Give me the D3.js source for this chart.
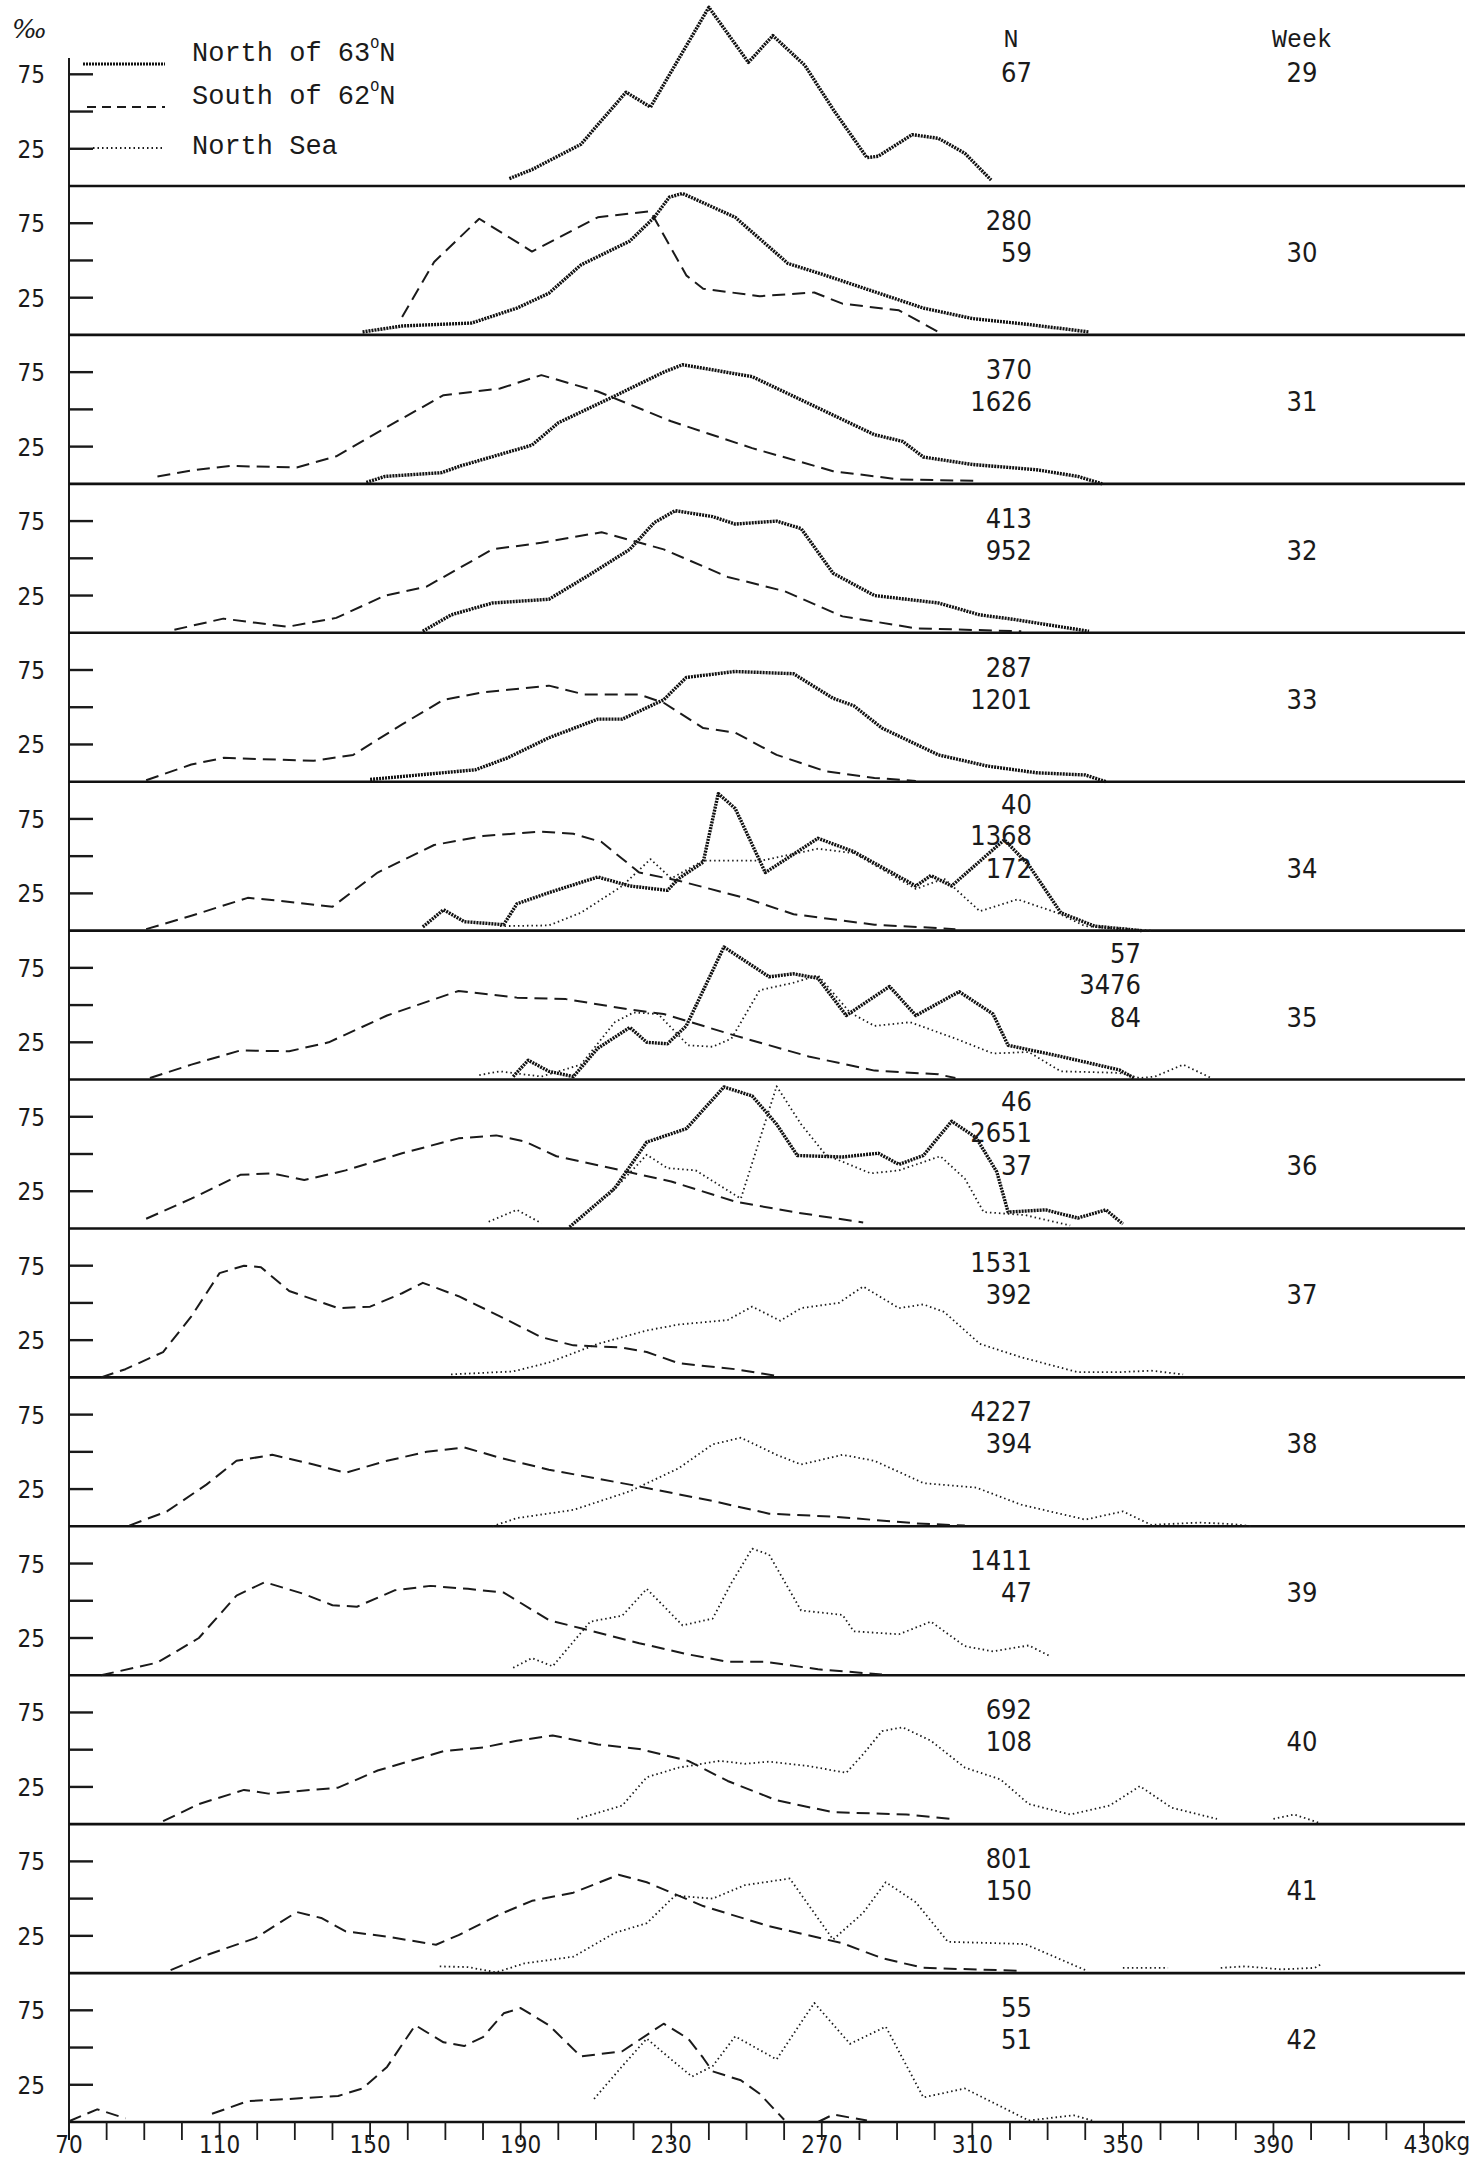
<!DOCTYPE html>
<html>
<head>
<meta charset="utf-8">
<script src="https://cdn.jsdelivr.net/npm/d3@7"></script>
<style>
  body { margin: 0; background: #fff; }
  svg { display: block; }
  .num { font-family: "DejaVu Sans", sans-serif; font-stretch: condensed; fill: #1a1a1a; }
  .mono { font-family: "Liberation Mono", "DejaVu Sans Mono", monospace; fill: #1a1a1a; }
</style>
</head>
<body>
<div id="chart_wrapper"></div>
<script>
// weeks shown, one panel each, top to bottom
var weeks = [29, 30, 31, 32, 33, 34, 35, 36, 37, 38, 39, 40, 41, 42];

// N column (sample sizes) for every panel
var nCounts = [["67"], ["280", "59"], ["370", "1626"], ["413", "952"], ["287", "1201"],
    ["40", "1368", "172"], ["57", "3476", "84"], ["46", "2651", "37"], ["1531", "392"],
    ["4227", "394"], ["1411", "47"], ["692", "108"], ["801", "150"], ["55", "51"]];

var xLabels = [70, 110, 150, 190, 230, 270, 310, 350, 390, 430];
var yLabels = [75, 25];
var yTicks = [75, 50, 25];
var seriesNames = ["North of 63", "South of 62", "North Sea"];

// [weight kg, per mille] per panel, null = gap in the line
var northOf63 = [
    [[187,5],[193,11],[206,28],[218,63],[224.5,53],[240,120],[250.5,83],[257,101],[265.5,81],[273,51.5],[282,19],[285,20],[294,34.5],[301,32],[308,22],[315,4]],
    [[148,2],[158.5,6],[177,8],[189,18],[197.5,28],[206,47],[219,63],[225.5,79],[229.5,92.5],[233,95],[247,79],[261,48],[271,40],[284,29],[297,18],[310,11],[325,7],[341,2]],
    [[149,1],[154,5],[169,7.5],[174,12],[193,26],[200,41],[215,59],[228,75],[233,80],[251.5,72],[269,51],[284,33],[291.5,28.5],[297,18],[310,13],[327,9.5],[338,5],[344.5,0]],
    [[164,1],[171.5,12],[182.5,20],[197.5,22.5],[208,38.5],[219,56],[225.5,74],[231,82],[241,78],[247,73],[258,75],[264.5,70],[273,40],[284,25],[301,20],[312,12],[321,9],[341,1]],
    [[150,1.5],[165,5],[178,8],[186.5,16],[197.5,29.5],[210.5,42],[217,42],[228,55],[234,70],[247,74],[262.5,72.5],[273,56],[278.5,51],[286,36],[301,18],[314,10.5],[327,6],[340,4.5],[345.5,0]],
    [[164,2.5],[169.5,14],[175,6],[185.5,4],[189,18],[197.5,25.5],[210.5,36],[219,30],[229,27],[232,35],[238.5,46],[242.5,92],[247,82],[255,39],[269,62],[278.5,53],[295,30],[299,37],[304.5,30],[318.5,61],[325,44],[333.5,12],[342.5,3],[355,0]],
    [[188,2],[192,13],[197.5,5.5],[204,2],[210.5,21],[219,35],[223.5,25],[229,24],[234,36],[244,89],[256,69],[262.5,71],[269,68],[276.5,43],[288,62.5],[295,43],[306.5,59],[315.5,44],[319.5,23],[333.5,15.5],[349,6.5],[353,1]],
    [[203,1],[215,27],[223.5,58],[234,67],[244,95],[251.5,89],[258,70],[263.5,49],[275.5,48],[285,50.5],[290.5,43],[297,49],[304.5,72],[311,61],[316.5,38],[319.5,11],[329.5,12.5],[338,7],[345.5,12.5],[350,3]],
    [], [], [], [], [], []
];

var southOf62 = [
    [],
    [[158.5,12],[167,49],[179,78],[193,56],[210.5,79],[224.5,83],[234,40],[238.5,31],[253.5,26],[268,28.5],[275.5,21],[290.5,16.5],[301,2]],
    [[93.5,5],[102.5,9],[113,12],[130.5,11],[141,18.5],[154,37.5],[169.5,59.5],[184.5,64],[195.5,73],[210.5,62],[230,42],[251.5,24],[273,8.5],[290.5,3],[311,2]],
    [[98,2],[111,9.5],[128,4],[141,10],[154,25],[165,31],[182.5,56],[195.5,60.5],[211.5,67.5],[228,56],[245,37.5],[260,28],[275.5,11],[295,3],[323,1]],
    [[90.5,1],[102.5,11.5],[111,16],[135,14],[145.5,18],[158.5,38.5],[169.5,55],[180,60],[197.5,64.5],[207,58.5],[221.5,58.5],[228,53],[238.5,36],[247,33],[258,18],[271,7],[284,2.5],[295,0.5]],
    [[90.5,1],[102.5,10],[117.5,22],[126,20],[140,16],[152,39],[167,57.5],[180,63.5],[195.5,66.5],[204,65],[211.5,59.5],[221.5,39],[232,33.5],[249.5,22],[262.5,11],[284,4],[305.5,1]],
    [[91.5,1],[102.5,10],[115.5,19.5],[128.5,19],[139,25],[154.5,43],[173.5,59.5],[189,55],[202,54],[219,47],[228,44],[247,29.5],[266.5,15.5],[284,6],[301,3.5],[305.5,1]],
    [[90.5,6.5],[102.5,20],[115.5,36],[124,37],[132.5,32.5],[143.5,39],[158.5,50.5],[173.5,60.5],[183.5,62.5],[191,58.5],[199.5,48.5],[210.5,42.5],[230,31.5],[247,18],[262.5,11],[281,4]],
    [[78.5,0],[85,5.5],[95,17],[102.5,41],[110,70],[116.5,75],[121,74],[128.5,58],[141.5,46.5],[150,47.5],[158.5,56.5],[164,63.5],[173.5,54.5],[184.5,41],[195.5,27],[204,21.5],[217,20],[223.5,17],[232,9.5],[247,5.5],[258,1]],
    [[86,0.5],[96,10],[106.5,28],[114.5,44],[124,48],[135,41.5],[143.5,36],[154.5,44],[165,50],[175,53],[184.5,46],[197.5,38],[219,28],[241,17],[256,8.5],[273,6.5],[295,2],[308,0.5]],
    [[78.5,0],[93.5,8.5],[104.5,25],[114.5,53.5],[122,62.5],[132.5,54.5],[140,47],[146.5,46],[156.5,57],[166,60],[176,58],[185.5,55.5],[197.5,37],[206,31.5],[221.5,21.5],[234.5,14],[245,9],[255,9],[269,4],[286,0.5]],
    [[95,2],[104.5,13.5],[116.5,23],[123,20.5],[141.5,24.5],[152,36],[169.5,49],[180,51.5],[189,56],[198.5,59.5],[210.5,53.5],[221.5,50.5],[234.5,42.5],[245,29],[258,16],[273,8],[292.5,6.5],[304.5,3.5]],
    [[97,2],[106.5,12],[119.5,23.5],[130.5,41],[137,37],[143.5,28],[154.5,24.5],[167.5,19],[173.5,25.5],[184.5,39.5],[193,48.5],[204,54],[216,66],[223.5,61],[238.5,45],[256,31.5],[275.5,20],[286,10],[297,3.5],[323,1.5]],
    [[70,0.5],[77.5,8.5],[85,2.5],null,[108,5.5],[117.5,14],[128.5,15.5],[141.5,17.5],[148,22.5],[154.5,37],[162,65],[169.5,53.5],[175,51],[180,57],[185.5,73],[190,76.5],[197.5,65],[206,44],[217,47.5],[228,66],[234.5,56],[238.5,43],[241,34],[248.5,28],[253.5,19],[260,1.5],null,[269,0],[273,5],[282,1]]
];

var northSea = [
    [], [], [], [], [],
    [[184.5,3],[197.5,3.5],[206,12],[217,30],[224.5,48],[230,35],[238.5,47],[254,47],[269,55],[278.5,52],[295,28],[302.5,35],[312,13],[322,21],[332.5,12],[340,3],[357.5,0]],
    [[179,3],[184.5,5.5],[195.5,2],[206,10],[215,38.5],[220,45],[226.5,44],[234.5,23],[241,22],[246,27.5],[253.5,60],[262.5,65],[269,70],[277.5,45],[284,36],[293.5,38.5],[305.5,27.5],[315.5,17.5],[325,18.5],[333.5,5.5],[349,4.5],[354.5,1],[358.5,2],[366,10],[373.5,1]],
    [[181.5,4.5],[189,12.5],[195.5,3.5],null,[213.5,22.5],[223.5,49.5],[229,40.5],[236.5,39],[248.5,20],[258,95.5],[264.5,70],[271,49.5],[283,37],[290.5,39],[301.5,48.5],[308,33.5],[313,11],[324,9],[336,2]],
    [[171.5,2],[188,4],[197.5,10],[210.5,22.5],[223.5,31.5],[232,35.5],[245,38.5],[251.5,47.5],[259,38],[264.5,46.5],[274.5,50],[281,61],[290.5,46.5],[297,49],[302.5,44],[312,22.5],[323,13.5],[338,3.5],[349,3.5],[357.5,4.5],[366,2]],
    [[182.5,0],[189,5.5],[204,11],[219,23.5],[232,39],[241,55],[248.5,59.5],[258,48],[264.5,41.5],[275.5,48],[284,44],[297,29],[311,26],[323,14.5],[340,4.5],[350,10],[357.5,1],[370.5,2.5],[379,1.5],[384.5,0]],
    [[188,5],[193,11.5],[198.5,6],[208.5,36],[217,40],[223.5,58],[233,33.5],[241,38],[246,62],[251.5,85],[256,81],[264.5,43.5],[275.5,40.5],[278.5,29.5],[290.5,27.5],[299,36],[308,19.5],[315.5,16],[325,20],[330.5,13]],
    [[205,3.5],[217,12.5],[223.5,31.5],[232,38],[243,42.5],[249.5,40.5],[256,42],[266.5,39],[276.5,34.5],[281,47],[286,62.5],[291.5,65],[299,56],[308,38],[317.5,30],[325,13.5],[336,6.5],[346.5,12.5],[354.5,25.5],[363,11],[375,3.5],null,[390,3.5],[395.5,6.5],[402,1]],
    [[168.5,4.5],[176,4],[183.5,0.5],[191,6.5],[204,11],[215,27],[223.5,33.5],[231,52],[241,50],[249.5,59],[261.5,63.5],[273,22.5],[281,40.5],[287,61],[295,47.5],[303.5,21],[324,19.5],[340,2],null,[350,3.5],[362,3.5],null,[376,3.5],[382.5,4.5],[392,2.5],[401,3.5],[403,6.5]],
    [[209.5,15.5],[217,37.5],[223.5,56],[230,42],[235.5,30.5],[241,37.5],[247,57.5],[258,42],[268,80],[277.5,52.5],[287,64],[297,16.5],[308,22.5],[325,1],[337,4.5],[342.5,0.5]]
];

var width = 1472, height = 2161;
var left = 69, lineEnd = 1465;
var firstBase = 186, lastBase = 2122;
var ph = (lastBase - firstBase) / (weeks.length - 1);

var svg = d3.select("#chart_wrapper").append("svg")
    .attr("width", width).attr("height", height);
svg.append("rect").attr("width", width).attr("height", height).attr("fill", "#fff");

var x = d3.scaleLinear().domain([70, 430]).range([left, 1424]);
var y = d3.scaleLinear().domain([0, 100]).range([0, -ph]);

var styles = [
    { width: 3.4, dash: "2,1", color: "#111" },        // North of 63
    { width: 2, dash: "13,7", color: "#1a1a1a" },      // South of 62
    { width: 1.8, dash: "1.5,3", color: "#1a1a1a" }    // North Sea
];

var line = d3.line()
    .defined(function(d) { return d != null; })
    .x(function(d) { return x(d[0]); })
    .y(function(d) { return y(d[1]); });

// vertical axis
svg.append("line").attr("x1", left).attr("x2", left).attr("y1", 58).attr("y2", lastBase + 18)
    .attr("stroke", "#1a1a1a").attr("stroke-width", 2);

svg.append("text").attr("x", 12).attr("y", 38).attr("font-size", 26).attr("font-style", "italic")
    .attr("font-family", "DejaVu Serif, serif").attr("fill", "#1a1a1a").text("‰");

var allSeries = [northOf63, southOf62, northSea];

weeks.forEach(function(w, i) {
    var base = firstBase + i * ph;
    var g = svg.append("g").attr("transform", "translate(0," + base + ")");

    g.append("line").attr("x1", left).attr("x2", lineEnd).attr("y1", 0).attr("y2", 0)
        .attr("stroke", "#111").attr("stroke-width", 2.6);

    g.selectAll(".ytick").data(yTicks).enter().append("line")
        .attr("x1", left).attr("x2", left + 24)
        .attr("y1", function(d) { return y(d); }).attr("y2", function(d) { return y(d); })
        .attr("stroke", "#1a1a1a").attr("stroke-width", 2.4);

    g.selectAll(".ylab").data(yLabels).enter().append("text")
        .attr("class", "num").attr("font-size", 24)
        .attr("x", 45).attr("y", function(d) { return y(d) + 9; })
        .attr("text-anchor", "end").text(function(d) { return d; });

    allSeries.forEach(function(series, s) {
        var pts = series[i];
        if (!pts.length) return;
        g.append("path").attr("d", line(pts))
            .attr("fill", "none")
            .attr("stroke", styles[s].color)
            .attr("stroke-width", styles[s].width)
            .attr("stroke-dasharray", styles[s].dash)
            .attr("stroke-linejoin", "round");
    });

    // N and week numbers
    var rows = nCounts[i];
    var offs = rows.length == 3 ? [-127, -96, -63] : rows.length == 2 ? [-115, -83] : [-114];
    var nx = w == 35 ? 1141 : 1032;
    rows.forEach(function(t, k) {
        g.append("text").attr("class", "num").attr("font-size", 27)
            .attr("x", nx).attr("y", offs[k] + 10).attr("text-anchor", "end").text(t);
    });
    g.append("text").attr("class", "num").attr("font-size", 27)
        .attr("x", 1302).attr("y", offs[offs.length - 1] + 10).attr("text-anchor", "middle").text(w);
});

// headers
svg.append("text").attr("class", "mono").attr("font-size", 25).attr("x", 1011).attr("y", 47)
    .attr("text-anchor", "middle").text("N");
svg.append("text").attr("class", "mono").attr("font-size", 25).attr("x", 1302).attr("y", 47)
    .attr("text-anchor", "middle").text("Week");

// legend
var legY = [64, 107, 148];
var legX = [[83, 165], [87, 165], [93, 163]];
var legText = [["North of 63", "N"], ["South of 62", "N"], ["North Sea", ""]];
legY.forEach(function(ly, k) {
    svg.append("line").attr("x1", legX[k][0]).attr("x2", legX[k][1]).attr("y1", ly).attr("y2", ly)
        .attr("stroke", styles[k].color).attr("stroke-width", k == 0 ? 3 : styles[k].width)
        .attr("stroke-dasharray", k == 1 ? "9,6" : styles[k].dash);
    var t = svg.append("text").attr("class", "mono").attr("font-size", 27)
        .attr("x", 192).attr("y", ly - (k == 2 ? -6 : 3));
    t.append("tspan").text(legText[k][0]);
    if (legText[k][1]) {
        t.append("tspan").attr("dy", -13).attr("font-size", 15).text("O");
        t.append("tspan").attr("dy", 13).text(legText[k][1]);
    }
});

// bottom axis
var minor = d3.range(70, 431, 10);
svg.selectAll(".xtick").data(minor).enter().append("line")
    .attr("x1", function(d) { return x(d); }).attr("x2", function(d) { return x(d); })
    .attr("y1", lastBase).attr("y2", lastBase + 18)
    .attr("stroke", "#1a1a1a").attr("stroke-width", 1.8);
svg.selectAll(".xlab").data(xLabels).enter().append("text")
    .attr("class", "num").attr("font-size", 24)
    .attr("x", function(d) { return x(d); }).attr("y", lastBase + 31)
    .attr("text-anchor", "middle").text(function(d) { return d; });
svg.append("text").attr("class", "num").attr("font-size", 24)
    .attr("x", x(430) + 20).attr("y", lastBase + 28).text("kg");
</script>
</body>
</html>
